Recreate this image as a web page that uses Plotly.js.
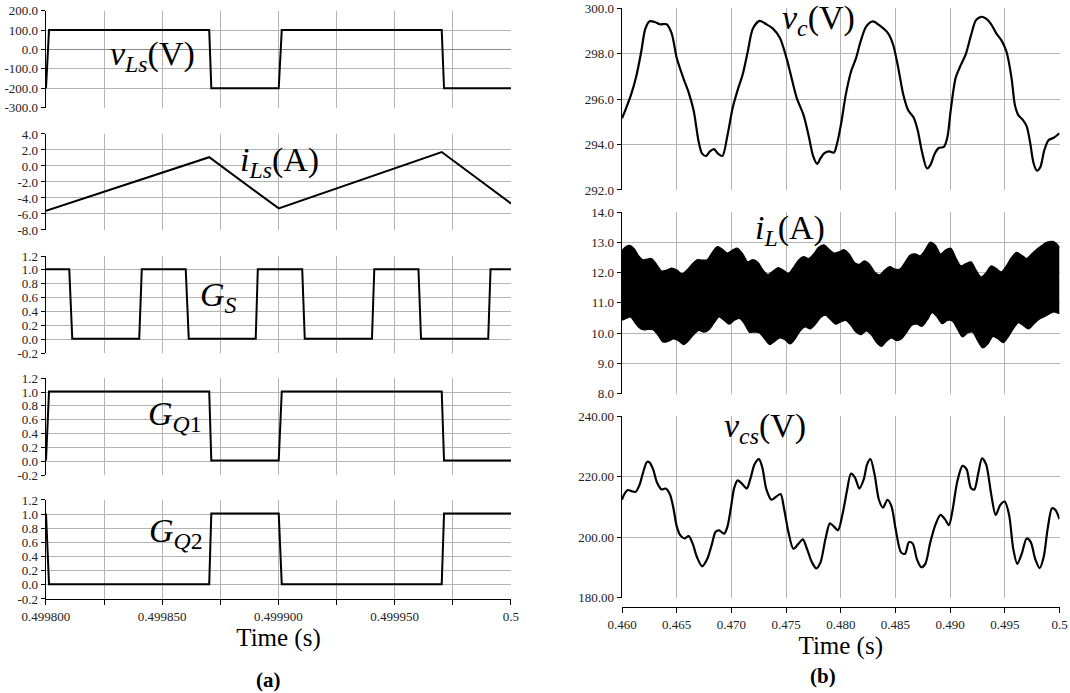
<!DOCTYPE html>
<html>
<head>
<meta charset="utf-8">
<script src="https://cdn.plot.ly/plotly-3.0.1.min.js"></script>
<style>html,body{margin:0;padding:0;background:#fff;}#chart{width:1070px;height:693px;}</style>
</head>
<body>
<div id="chart"></div>
<script>
// ---------- (a) left column data ----------
const tLs = [0.4998, 0.4998013, 0.4998702, 0.4998711, 0.4999001, 0.4999014, 0.4999702, 0.4999712, 0.5];
const vLs = [-200, 100, 100, -200, -200, 100, 100, -200, -200];

const tiLs = [0.4998, 0.4998702, 0.4999001, 0.4999702, 0.5];
const iLs  = [-5.6, 1.1, -5.3, 1.75, -4.7];

const tGS = [0.4998, 0.49981, 0.4998113, 0.4998401, 0.4998412, 0.4998601, 0.4998614, 0.4998902, 0.4998911,
             0.4999102, 0.4999113, 0.4999402, 0.4999412, 0.4999602, 0.4999613, 0.4999902, 0.4999912, 0.5];
const GS  = [1.01, 1.01, 0.01, 0.01, 1.01, 1.01, 0.01, 0.01, 1.01, 1.01, 0.01, 0.01, 1.01, 1.01, 0.01, 0.01, 1.01, 1.01];

const tQ  = [0.4998, 0.4998013, 0.4998702, 0.4998711, 0.4999001, 0.4999014, 0.4999702, 0.4999712, 0.5];
const GQ1 = [0.01, 1.01, 1.01, 0.01, 0.01, 1.01, 1.01, 0.01, 0.01];
const GQ2 = [1.01, 0.01, 0.01, 1.01, 1.01, 0.01, 0.01, 1.01, 1.01];

// ---------- (b) right column data ----------
const tVc = [0.46000,0.46037,0.46083,0.46130,0.46176,0.46213,0.46253,0.46300,0.46346,0.46408,0.46454,0.46501,0.46563,0.46609,0.46655,0.46702,0.46733,0.46770,0.46804,0.46841,0.46878,0.46918,0.46964,0.47011,0.47057,0.47104,0.47150,0.47196,0.47258,0.47320,0.47382,0.47444,0.47505,0.47552,0.47598,0.47660,0.47706,0.47747,0.47784,0.47815,0.47845,0.47892,0.47938,0.47969,0.48006,0.48046,0.48093,0.48139,0.48185,0.48232,0.48294,0.48355,0.48433,0.48479,0.48525,0.48572,0.48618,0.48665,0.48705,0.48742,0.48788,0.48819,0.48859,0.48896,0.48943,0.48974,0.49005,0.49051,0.49097,0.49144,0.49190,0.49236,0.49283,0.49329,0.49376,0.49422,0.49468,0.49515,0.49561,0.49592,0.49623,0.49663,0.49700,0.49731,0.49762,0.49793,0.49824,0.49861,0.49901,0.49947,0.50000];
const vc  = [295.16,295.6,296.2,297.0,298.1,299.1,299.43,299.4,299.3,299.3,298.9,297.8,296.9,296.3,295.5,294.1,293.6,293.5,293.7,293.8,293.6,293.5,294.4,295.6,296.4,297.1,298.1,299.1,299.45,299.3,299.1,298.7,297.8,296.9,296.05,295.3,294.4,293.5,293.15,293.4,293.6,293.7,293.65,294.1,295.0,296.2,297.2,297.8,298.6,299.2,299.43,299.25,298.9,298.4,297.4,296.2,295.5,295.2,294.6,293.7,292.95,293.1,293.6,293.85,293.9,294.3,295.5,296.95,297.5,298.0,298.8,299.48,299.63,299.55,299.3,298.9,298.6,298.1,296.95,295.75,295.3,295.1,294.8,294.1,293.2,292.85,293.0,293.75,294.2,294.3,294.5];

const tILup = [0.46000,0.46037,0.46077,0.46114,0.46151,0.46192,0.46232,0.46269,0.46315,0.46362,0.46408,0.46454,0.46501,0.46547,0.46594,0.46640,0.46686,0.46733,0.46779,0.46825,0.46872,0.46918,0.46964,0.47011,0.47057,0.47104,0.47150,0.47196,0.47243,0.47289,0.47335,0.47382,0.47428,0.47474,0.47521,0.47567,0.47614,0.47660,0.47706,0.47753,0.47799,0.47845,0.47892,0.47938,0.47985,0.48031,0.48077,0.48124,0.48170,0.48216,0.48263,0.48309,0.48355,0.48402,0.48448,0.48495,0.48541,0.48587,0.48634,0.48680,0.48726,0.48773,0.48819,0.48866,0.48912,0.48958,0.49005,0.49051,0.49097,0.49144,0.49190,0.49236,0.49283,0.49329,0.49376,0.49422,0.49468,0.49515,0.49561,0.49607,0.49654,0.49700,0.49746,0.49793,0.49839,0.49886,0.49947,0.50000];
const iLup  = [12.72,12.86,12.89,12.77,12.55,12.42,12.44,12.46,12.27,12.05,12.08,12.14,12.08,11.96,12.08,12.27,12.42,12.41,12.42,12.66,12.85,12.77,12.64,12.74,12.80,12.61,12.35,12.42,12.33,12.08,11.93,12.05,12.16,12.08,11.97,12.16,12.41,12.52,12.46,12.61,12.83,12.91,12.77,12.64,12.68,12.75,12.61,12.33,12.27,12.38,12.27,12.02,11.92,12.08,12.19,12.11,12.11,12.33,12.57,12.61,12.55,12.75,13.0,12.89,12.61,12.74,12.80,12.49,12.22,12.29,12.35,12.08,11.85,11.99,12.22,12.13,12.02,12.22,12.49,12.66,12.57,12.46,12.61,12.77,12.89,13.0,13.02,12.83];

const tILlo = [0.46000,0.46037,0.46077,0.46114,0.46151,0.46192,0.46238,0.46284,0.46331,0.46377,0.46424,0.46470,0.46516,0.46563,0.46609,0.46655,0.46702,0.46748,0.46794,0.46841,0.46887,0.46934,0.46980,0.47026,0.47073,0.47119,0.47165,0.47212,0.47258,0.47304,0.47351,0.47397,0.47444,0.47490,0.47536,0.47583,0.47629,0.47675,0.47722,0.47768,0.47815,0.47861,0.47907,0.47954,0.48000,0.48046,0.48093,0.48139,0.48185,0.48232,0.48278,0.48325,0.48371,0.48417,0.48464,0.48510,0.48556,0.48603,0.48649,0.48696,0.48742,0.48788,0.48835,0.48881,0.48927,0.48974,0.49020,0.49066,0.49113,0.49159,0.49206,0.49252,0.49298,0.49345,0.49391,0.49437,0.49484,0.49530,0.49577,0.49623,0.49669,0.49716,0.49762,0.49808,0.49855,0.49901,0.49947,0.50000];
const iLlo  = [10.43,10.49,10.54,10.38,10.21,10.12,10.13,10.12,9.93,9.71,9.74,9.82,9.76,9.63,9.76,9.96,10.10,10.04,10.12,10.34,10.54,10.43,10.30,10.43,10.49,10.32,10.04,10.04,10.01,9.82,9.63,9.74,9.85,9.79,9.65,9.82,10.08,10.21,10.15,10.30,10.52,10.60,10.45,10.30,10.38,10.43,10.27,10.04,9.96,10.08,9.96,9.71,9.57,9.74,9.85,9.76,9.82,10.04,10.27,10.30,10.23,10.43,10.68,10.54,10.32,10.43,10.41,10.15,9.88,10.01,10.04,9.76,9.52,9.65,9.90,9.82,9.69,9.88,10.15,10.35,10.26,10.15,10.30,10.45,10.54,10.63,10.71,10.65];

const tVcs = [0.46000,0.46022,0.46053,0.46090,0.46124,0.46161,0.46192,0.46229,0.46253,0.46284,0.46321,0.46362,0.46399,0.46439,0.46470,0.46501,0.46532,0.46572,0.46609,0.46646,0.46686,0.46733,0.46779,0.46819,0.46856,0.46887,0.46934,0.46964,0.46995,0.47026,0.47057,0.47104,0.47141,0.47172,0.47212,0.47252,0.47283,0.47320,0.47366,0.47413,0.47450,0.47481,0.47521,0.47567,0.47614,0.47654,0.47691,0.47737,0.47777,0.47815,0.47861,0.47901,0.47938,0.47975,0.48015,0.48056,0.48093,0.48130,0.48170,0.48210,0.48241,0.48272,0.48309,0.48349,0.48386,0.48427,0.48464,0.48501,0.48550,0.48587,0.48624,0.48658,0.48696,0.48736,0.48773,0.48819,0.48866,0.48912,0.48952,0.48989,0.49020,0.49066,0.49113,0.49150,0.49190,0.49221,0.49258,0.49292,0.49329,0.49376,0.49416,0.49459,0.49499,0.49539,0.49577,0.49614,0.49654,0.49700,0.49737,0.49778,0.49818,0.49855,0.49892,0.49932,0.49963,0.50000];
const vcs  = [212.4,214.3,215.6,215.2,215.0,217.4,221.3,224.9,224.7,222.5,218.0,215.8,216.1,214.1,209.6,203.5,200.7,199.6,200.4,197.9,193.4,190.4,192.8,197.3,201.8,202.3,201.2,203.5,209.6,216.3,218.8,217.4,216.1,219.1,224.1,225.8,223.0,215.8,212.4,213.5,214.3,209.6,201.8,196.2,197.9,199.3,196.2,191.7,189.7,191.7,199.6,204.6,203.5,202.3,207.4,215.2,221.0,219.7,216.1,219.1,224.1,225.8,220.8,212.4,209.8,212.4,210.2,202.9,195.1,194.5,198.4,197.9,192.8,190.1,191.2,198.4,204.2,207.4,206.0,204.0,208.5,218.5,223.6,222.5,216.3,215.8,221.3,226.1,224.1,214.1,207.4,210.7,211.8,207.4,196.2,191.2,194.5,199.6,198.4,192.8,189.8,193.4,202.9,209.6,209.0,206.0];

// ---------- tick definitions ----------
const xTicksA = [0.4998, 0.49985, 0.4999, 0.49995, 0.5];
const xLabelsA = ['0.499800', '0.499850', '0.499900', '0.499950', '0.5'];
const xMinorA = [0.499825, 0.499875, 0.499925, 0.499975];
const xTicksB = [0.46, 0.465, 0.47, 0.475, 0.48, 0.485, 0.49, 0.495, 0.5];
const xLabelsB = ['0.460', '0.465', '0.470', '0.475', '0.480', '0.485', '0.490', '0.495', '0.5'];
const yTicksVLs = [-300, -200, -100, 0, 100, 200];
const yTicksILs = [-8, -6, -4, -2, 0, 2, 4];
const yTicksG = [-0.2, 0, 0.2, 0.4, 0.6, 0.8, 1.0, 1.2];
const yTicksVc = [292, 294, 296, 298, 300];
const yTicksIL = [8, 9, 10, 11, 12, 13, 14];
const yTicksVcs = [180, 200, 220, 240];

// ---------- styling ----------
const FONT = 'Liberation Serif';
const GRID = '#b4b4b4';
const tickFont = {family: FONT, size: 13, color: '#222'};

function yAx(dom, rng, vals, dec, anchorX) {
  return {
    domain: dom, range: rng, anchor: anchorX,
    tickmode: 'array', tickvals: vals, ticktext: vals.map(v => v.toFixed(dec)),
    showgrid: true, gridcolor: GRID, gridwidth: 1,
    zeroline: false,
    showline: true, linecolor: '#000', linewidth: 1.3,
    ticks: 'outside', ticklen: 4, tickcolor: '#000', tickwidth: 1,
    tickfont: tickFont, fixedrange: true
  };
}
function xAx(dom, rng, vals, labels, minorVals, anchorY, bottom) {
  const a = {
    domain: dom, range: rng, anchor: anchorY,
    tickmode: 'array', tickvals: vals, ticktext: labels,
    showgrid: true, gridcolor: GRID, gridwidth: 1,
    zeroline: false, tickfont: tickFont, fixedrange: true
  };
  if (minorVals) {
    a.minor = {tickmode: 'array', tickvals: minorVals, showgrid: true, gridcolor: GRID, gridwidth: 1,
               ticks: bottom ? 'outside' : '', ticklen: 5, tickcolor: '#000'};
  }
  if (bottom) {
    a.showline = true; a.linecolor = '#000'; a.linewidth = 1.3;
    a.ticks = 'outside'; a.ticklen = 5; a.tickcolor = '#000';
    a.showticklabels = true;
    a.title = {text: 'Time (s)', font: {family: FONT, size: 25, color: '#000'}, standoff: 3};
  } else {
    a.showline = false; a.ticks = ''; a.showticklabels = false;
  }
  return a;
}
const XA = [0.04299, 0.47757], XB = [0.58131, 0.99019];
const rA = [0.4998, 0.5], rB = [0.46, 0.5];

const line = (w) => ({color: '#000', width: w});
const traces = [
  {x: tLs, y: vLs, xaxis: 'x', yaxis: 'y', mode: 'lines', line: line(2)},
  {x: tiLs, y: iLs, xaxis: 'x2', yaxis: 'y2', mode: 'lines', line: line(2)},
  {x: tGS, y: GS, xaxis: 'x3', yaxis: 'y3', mode: 'lines', line: line(2)},
  {x: tQ, y: GQ1, xaxis: 'x4', yaxis: 'y4', mode: 'lines', line: line(2)},
  {x: tQ, y: GQ2, xaxis: 'x5', yaxis: 'y5', mode: 'lines', line: line(2)},
  {x: tVc, y: vc, xaxis: 'x6', yaxis: 'y6', mode: 'lines', line: {color: '#000', width: 2.2, shape: 'spline', smoothing: 0.8}},
  {x: tILlo, y: iLlo, xaxis: 'x7', yaxis: 'y7', mode: 'lines', line: {color: '#000', width: 1.5, shape: 'spline', smoothing: 0.8}},
  {x: tILup, y: iLup, xaxis: 'x7', yaxis: 'y7', mode: 'lines', fill: 'tonexty', fillcolor: '#000', line: {color: '#000', width: 1.5, shape: 'spline', smoothing: 0.8}},
  {x: tVcs, y: vcs, xaxis: 'x8', yaxis: 'y8', mode: 'lines', line: {color: '#000', width: 2.2, shape: 'spline', smoothing: 0.8}}
];

const layout = {
  width: 1070, height: 693,
  margin: {l: 0, r: 0, t: 0, b: 0},
  paper_bgcolor: '#fff', plot_bgcolor: '#fff',
  showlegend: false,
  font: {family: FONT, color: '#000'},
  xaxis:  xAx(XA, rA, xTicksA, xLabelsA, xMinorA, 'y', false),
  xaxis2: xAx(XA, rA, xTicksA, xLabelsA, xMinorA, 'y2', false),
  xaxis3: xAx(XA, rA, xTicksA, xLabelsA, xMinorA, 'y3', false),
  xaxis4: xAx(XA, rA, xTicksA, xLabelsA, xMinorA, 'y4', false),
  xaxis5: xAx(XA, rA, xTicksA, xLabelsA, xMinorA, 'y5', true),
  xaxis6: xAx(XB, rB, xTicksB, xLabelsB, null, 'y6', false),
  xaxis7: xAx(XB, rB, xTicksB, xLabelsB, null, 'y7', false),
  xaxis8: Object.assign(xAx(XB, rB, xTicksB, xLabelsB, null, 'free', true), {position: 0.1241}),
  yaxis:  Object.assign(yAx([0.84459, 0.98456], [-300, 200], yTicksVLs, 1, 'x'), {zeroline: true, zerolinecolor: '#8a8a8a', zerolinewidth: 1}),
  yaxis2: yAx([0.66811, 0.80664], [-8, 4], yTicksILs, 1, 'x2'),
  yaxis3: yAx([0.49019, 0.63059], [-0.2, 1.2], yTicksG, 1, 'x3'),
  yaxis4: yAx([0.31457, 0.45411], [-0.2, 1.2], yTicksG, 1, 'x4'),
  yaxis5: yAx([0.13564, 0.27850], [-0.2, 1.2], yTicksG, 1, 'x5'),
  yaxis6: yAx([0.72583, 0.98788], [292, 300], yTicksVc, 1, 'x6'),
  yaxis7: yAx([0.43175, 0.69408], [8, 14], yTicksIL, 1, 'x7'),
  yaxis8: yAx([0.13737, 0.39942], [180, 240], yTicksVcs, 2, 'x8'),
  annotations: [
    {text: '<i>v</i><sub><i>Ls</i></sub>(V)', x: 0.1425, y: 0.91919},
    {text: '<i>i</i><sub><i>Ls</i></sub>(A)', x: 0.26168, y: 0.76623},
    {text: '<i>G</i><sub><i>S</i></sub>', x: 0.20374, y: 0.57143},
    {text: '<i>G</i><sub><i>Q</i>1</sub>', x: 0.16355, y: 0.39971},
    {text: '<i>G</i><sub><i>Q</i>2</sub>', x: 0.16449, y: 0.23088},
    {text: '<i>v</i><sub><i>c</i></sub>(V)', x: 0.7645, y: 0.9705},
    {text: '<i>i</i><sub><i>L</i></sub>(A)', x: 0.73832, y: 0.66811},
    {text: '<i>v</i><sub><i>cs</i></sub>(V)', x: 0.71449, y: 0.38240}
  ].map(a => Object.assign({xref: 'paper', yref: 'paper', xanchor: 'center', yanchor: 'middle', showarrow: false,
      font: {family: FONT, size: 34, color: '#000'}}, a)).concat([
    {text: '<b>(a)</b>', x: 0.25047, y: 0.01876, xref: 'paper', yref: 'paper', showarrow: false, xanchor: 'center', yanchor: 'middle', font: {family: FONT, size: 21, color: '#000'}},
    {text: '<b>(b)</b>', x: 0.76916, y: 0.02453, xref: 'paper', yref: 'paper', showarrow: false, xanchor: 'center', yanchor: 'middle', font: {family: FONT, size: 21, color: '#000'}}
  ])
};

Plotly.newPlot('chart', traces, layout, {staticPlot: true, displayModeBar: false});
</script>
</body>
</html>
